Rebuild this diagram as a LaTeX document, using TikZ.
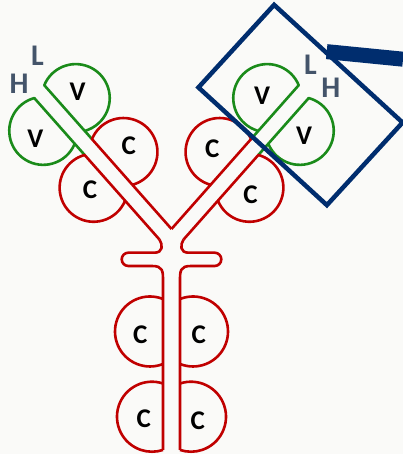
\documentclass[tikz,border=0pt]{standalone}
\usepackage{fontspec}
\setmainfont{Carlito}
\usepackage{tikz}
\usetikzlibrary{arrows.meta, positioning, calc}

\definecolor{chainred}{RGB}{192,0,0}
\definecolor{chaingreen}{RGB}{26,139,26}
\definecolor{boxblue}{RGB}{0,45,110}
\definecolor{tagslate}{RGB}{68,84,106}
\definecolor{paper}{RGB}{250,250,248}

\begin{document}
\begin{tikzpicture}[x=1pt, y=1pt,
  chain/.style={line width=2.6pt, line join=round},
  vreg/.style={chain, draw=chaingreen},
  creg/.style={chain, draw=chainred},
  dom/.style={font=\fontsize{27}{27}\selectfont\bfseries, inner sep=0pt},
  tag/.style={font=\fontsize{30}{30}\selectfont\bfseries, text=tagslate, inner sep=0pt}]
\fill[paper] (0,0) rectangle (403,454);
\useasboundingbox (0,0) rectangle (403,454);

% arms, hinge and stem -- right half is the mirror image
\foreach \s in {1,-1}{
  \begin{scope}[shift={(171.5,225)}, xscale=\s]
    \begin{scope}[rotate=131.5]
      % light chain
      \draw[vreg] (120,0) -- (192,0) arc[start angle=26.19, end angle=-206.19, radius=34];
      \draw[creg] (0,0) -- (120,0) arc[start angle=26.19, end angle=-206.19, radius=34];
      % heavy chain
      \draw[vreg] (113,16) -- (189,16) arc[start angle=-26.19, end angle=206.19, radius=34];
      \draw[creg] (0,16) coordinate (neck) -- (113,16) arc[start angle=-26.19, end angle=206.19, radius=34];
    \end{scope}
    \draw[creg] (neck) .. controls (-8.5,-16) and (-8.5,-23.7) .. (-17,-23.7)
      -- (-43.15,-23.7) arc[start angle=90, end angle=270, radius=6.65]
      -- (-19.5,-37) .. controls (-8.5,-37) and (-8.5,-42) .. (-8.5,-52) -- (-8.5,-221);
    \draw[creg] (-8.5,-70) arc[start angle=68.2, end angle=291.8, radius=35];
    \draw[creg] (-8.5,-154.5) arc[start angle=71.66, end angle=288.34, radius=35];
  \end{scope}
}

% Fab frame and pointer
\draw[boxblue, line width=4.5pt, rotate around={-42.5:(300.5,349)}] (213.4,293) rectangle (387.6,405);
\draw[boxblue, line width=15pt] (326.7,402.35) -- (403,394.8);

\node[dom] (vl1) at (77.5,361.8) {V};
\node[dom] (vh1) at (35.3,315.5) {V};
\node[dom] (vl2) at (262,358.2) {V};
\node[dom] (vh2) at (304.2,317.8) {V};
\node[dom] (cl1) at (128.8,308.2) {C};
\node[dom] (ch1) at (90,264.3) {C};
\node[dom] (cl2) at (212.2,305.7) {C};
\node[dom] (ch2) at (250.5,259) {C};
\node[dom] (cha) at (140.3,119.3) {C};
\node[dom] (chb) at (198.8,119.3) {C};
\node[dom] (chc) at (143.7,35.7) {C};
\node[dom] (chd) at (197.8,33.7) {C};
\node[tag] (l1) at (37.5,398.5) {L};
\node[tag] (h1) at (19.2,369.8) {H};
\node[tag] (l2) at (310.5,388.8) {L};
\node[tag] (h2) at (330.8,366.5) {H};
\end{tikzpicture}
\end{document}
